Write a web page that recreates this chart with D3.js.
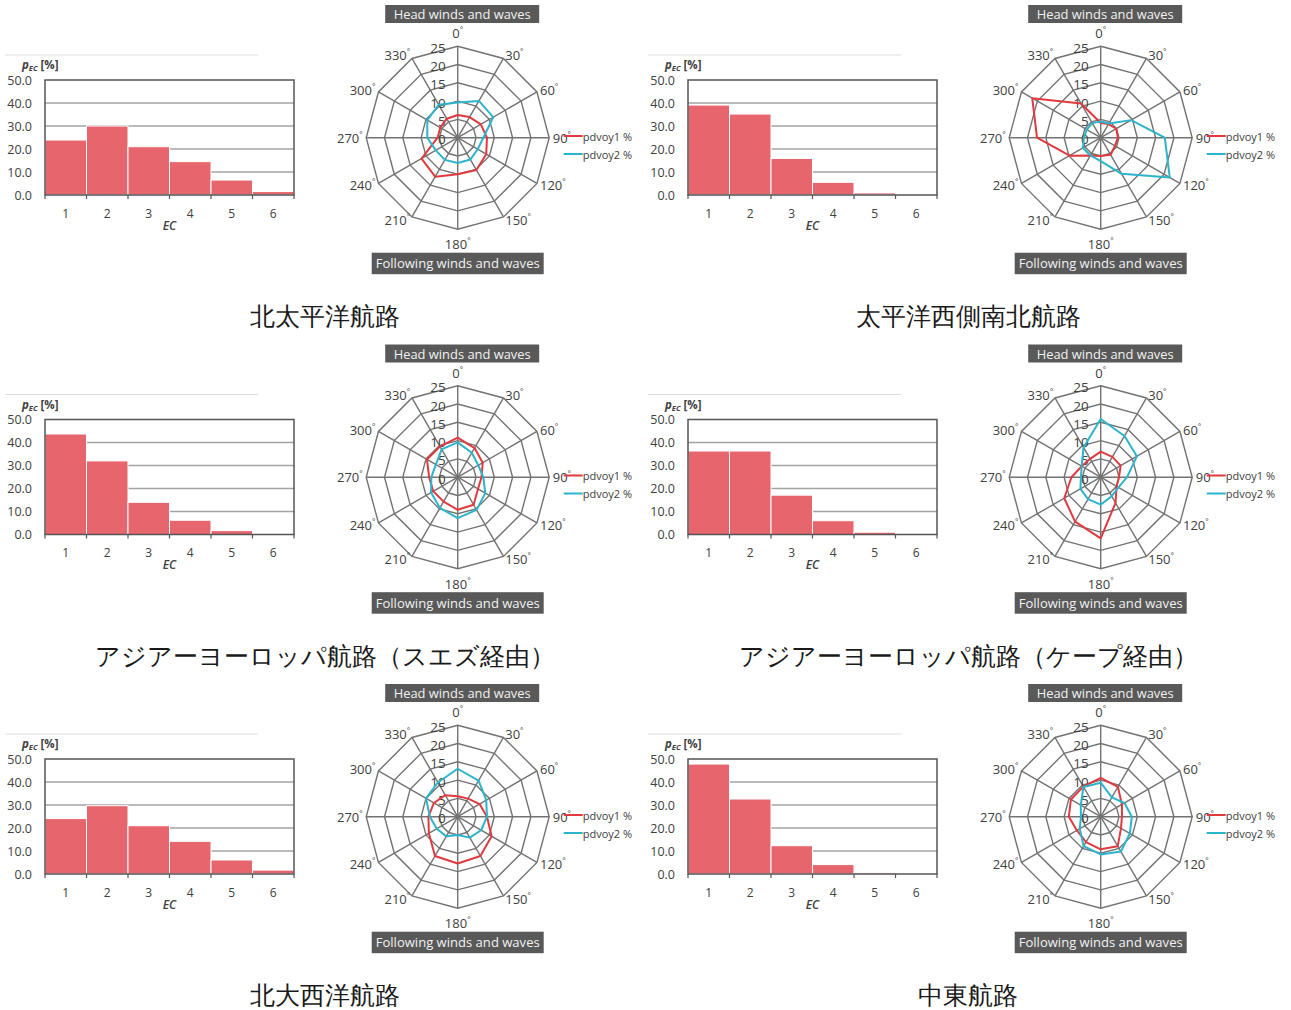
<!DOCTYPE html>
<html>
<head>
<meta charset="utf-8">
<script src="https://cdn.jsdelivr.net/npm/d3@7"></script>
<style>
  body { margin: 0; background: #fff; }
  svg text { font-family: "Open Sans", "Noto Sans", sans-serif; }
</style>
</head>
<body>
<div id="chart"></div>
<script>
// categories and tick labels
var ecLabels = [1, 2, 3, 4, 5, 6];
var yTicks = [0, 10, 20, 30, 40, 50];
var angleLabels = [0, 30, 60, 90, 120, 150, 180, 210, 240, 270, 300, 330];
var ringTicks = [0, 5, 10, 15, 20, 25];
var seriesNames = ["pdvoy1 %", "pdvoy2 %"];
var routeNames = ["北太平洋航路", "太平洋西側南北航路",
    "アジアーヨーロッパ航路（スエズ経由）", "アジアーヨーロッパ航路（ケープ経由）",
    "北大西洋航路", "中東航路"];

// p_EC [%] per route
var pecNPacific = [23.9, 30.0, 21.0, 14.5, 6.5, 1.5];
var pecWPacific = [39.1, 35.2, 15.9, 5.5, 0.9, 0.0];
var pecSuez = [43.7, 32.0, 14.0, 6.2, 1.7, 0.0];
var pecCape = [36.3, 36.3, 17.1, 6.0, 1.0, 0.0];
var pecNAtlantic = [24.1, 29.7, 21.0, 14.2, 6.1, 1.7];
var pecMidEast = [47.8, 32.6, 12.3, 4.1, 0.6, 0.0];

// pdvoy1 / pdvoy2 [%] per heading 0..330 deg
var voy1NPacific = [6.2, 6.5, 7.3, 8.0, 9.0, 10.2, 10.0, 12.3, 11.4, 5.5, 5.5, 6.0];
var voy2NPacific = [9.6, 11.6, 11.2, 7.0, 6.3, 6.9, 6.9, 7.0, 6.9, 8.3, 9.6, 10.4];
var voy1WPacific = [4.0, 4.3, 4.9, 4.7, 4.5, 5.4, 5.0, 5.6, 9.8, 17.4, 21.6, 10.8];
var voy2WPacific = [4.4, 4.5, 9.6, 17.5, 21.8, 11.4, 6.4, 5.6, 5.6, 4.6, 4.4, 4.6];
var voy1Suez = [10.8, 9.2, 7.9, 6.5, 6.4, 8.7, 8.9, 7.7, 7.7, 7.8, 9.7, 9.7];
var voy2Suez = [9.5, 7.7, 6.5, 7.0, 8.7, 10.3, 11.2, 9.7, 8.4, 7.2, 6.9, 8.8];
var voy1Cape = [7.0, 6.4, 6.3, 5.0, 5.0, 8.1, 16.7, 14.0, 11.5, 8.0, 6.0, 5.8];
var voy2Cape = [15.9, 13.0, 11.4, 7.2, 5.6, 6.0, 7.5, 6.9, 6.4, 5.4, 6.0, 9.4];
var voy1NAtlantic = [5.6, 5.7, 6.9, 8.0, 10.7, 12.4, 12.8, 12.4, 9.1, 8.0, 7.5, 6.8];
var voy2NAtlantic = [13.1, 11.4, 9.0, 8.0, 7.4, 6.6, 5.0, 6.2, 6.6, 7.6, 10.0, 10.8];
var voy1MidEast = [10.6, 9.4, 6.7, 5.8, 6.4, 9.3, 8.9, 8.0, 7.5, 8.7, 9.4, 9.5];
var voy2MidEast = [9.3, 6.1, 7.5, 8.5, 9.2, 11.0, 10.3, 9.3, 6.6, 5.4, 6.3, 9.4];

var routes = [
    { name: routeNames[0], pec: pecNPacific, voy: [voy1NPacific, voy2NPacific] },
    { name: routeNames[1], pec: pecWPacific, voy: [voy1WPacific, voy2WPacific] },
    { name: routeNames[2], pec: pecSuez, voy: [voy1Suez, voy2Suez] },
    { name: routeNames[3], pec: pecCape, voy: [voy1Cape, voy2Cape] },
    { name: routeNames[4], pec: pecNAtlantic, voy: [voy1NAtlantic, voy2NAtlantic] },
    { name: routeNames[5], pec: pecMidEast, voy: [voy1MidEast, voy2MidEast] }
];

var colX = [0, 643];
var rowY = [0, 339.5, 679];
var seriesColors = ["#e03a40", "#2bb4ca"];

var svg = d3.select("#chart").append("svg")
    .attr("width", 1291)
    .attr("height", 1010);

function rad(d) { return d * Math.PI / 180; }

function drawBars(g, pec) {
    var x = d3.scaleBand().domain(ecLabels).range([45, 294]);
    var y = d3.scaleLinear().domain([0, 50]).range([195, 80]);

    // thin rule above the chart
    g.append("line")
        .attr("x1", 5).attr("x2", 258).attr("y1", 55).attr("y2", 55)
        .attr("stroke", "#dedede").attr("stroke-width", 1.2);

    // gridlines
    g.selectAll(".grid")
        .data(yTicks.slice(1, -1))
        .enter().append("line")
        .attr("x1", 45).attr("x2", 294)
        .attr("y1", function(d) { return y(d); })
        .attr("y2", function(d) { return y(d); })
        .attr("stroke", "#a3a3a3").attr("stroke-width", 1.5);

    // bars
    g.selectAll(".bar")
        .data(pec)
        .enter().append("rect")
        .attr("x", function(d, i) { return x(ecLabels[i]); })
        .attr("y", function(d) { return y(d); })
        .attr("width", x.bandwidth())
        .attr("height", function(d) { return y(0) - y(d); })
        .attr("fill", "#e7666e")
        .attr("stroke", "#fff")
        .attr("stroke-width", 1);

    // plot frame
    g.append("rect")
        .attr("x", 45).attr("y", 80).attr("width", 249).attr("height", 115)
        .attr("fill", "none").attr("stroke", "#555").attr("stroke-width", 1.5);

    // small ticks at category boundaries
    g.selectAll(".btick")
        .data(d3.range(ecLabels.length + 1))
        .enter().append("line")
        .attr("x1", function(i) { return 45 + i * x.step(); })
        .attr("x2", function(i) { return 45 + i * x.step(); })
        .attr("y1", 195).attr("y2", 199)
        .attr("stroke", "#555").attr("stroke-width", 1.2);

    var yAxis = g.append("g")
        .attr("transform", "translate(45,0)")
        .call(d3.axisLeft(y).tickValues(yTicks).tickFormat(d3.format(".1f")).tickSize(0).tickPadding(13));
    yAxis.select(".domain").remove();
    yAxis.selectAll("text")
        .attr("font-family", "'Open Sans', sans-serif")
        .attr("font-size", 12.5)
        .attr("fill", "#404040");

    var xAxis = g.append("g")
        .attr("transform", "translate(0,195)")
        .call(d3.axisBottom(x).tickSize(0).tickPadding(14));
    xAxis.select(".domain").remove();
    xAxis.selectAll("text")
        .attr("font-family", "'Open Sans', sans-serif")
        .attr("font-size", 12)
        .attr("fill", "#404040");

    // axis titles
    g.append("text")
        .attr("x", 169.5).attr("y", 229.5)
        .attr("text-anchor", "middle")
        .attr("font-size", 12).attr("font-style", "italic").attr("font-weight", 600)
        .attr("fill", "#404040")
        .text("EC");

    var yt = g.append("text")
        .attr("x", 22).attr("y", 69)
        .attr("font-size", 11.5).attr("font-weight", 700)
        .attr("fill", "#404040");
    yt.append("tspan").attr("font-style", "italic").text("p");
    yt.append("tspan").attr("font-style", "italic").attr("font-size", 7.5).attr("dy", 2).text("EC");
    yt.append("tspan").attr("dy", -2).text(" [%]");
}

function drawRadar(g, voy) {
    var cx = 457.7, cy = 137.7;
    var r = d3.scaleLinear().domain([0, 25]).range([0, 91.5]);
    var rg = g.append("g").attr("transform", "translate(" + cx + "," + cy + ")");

    // header boxes
    rg.append("rect")
        .attr("x", -72.5).attr("y", -132.7).attr("width", 154).attr("height", 18)
        .attr("fill", "#595959");
    rg.append("text")
        .attr("x", 4.5).attr("y", -123.5)
        .attr("text-anchor", "middle").attr("dominant-baseline", "central")
        .attr("font-size", 13).attr("fill", "#f2f2f2")
        .attr("textLength", 137).attr("lengthAdjust", "spacingAndGlyphs")
        .text("Head winds and waves");
    rg.append("rect")
        .attr("x", -86).attr("y", 115).attr("width", 172).attr("height", 21.5)
        .attr("fill", "#595959");
    rg.append("text")
        .attr("x", 0).attr("y", 125.8)
        .attr("text-anchor", "middle").attr("dominant-baseline", "central")
        .attr("font-size", 13.5).attr("fill", "#f2f2f2")
        .attr("textLength", 164).attr("lengthAdjust", "spacingAndGlyphs")
        .text("Following winds and waves");

    // rings
    var ring = d3.lineRadial()
        .angle(function(d) { return rad(d); })
        .curve(d3.curveLinearClosed);
    rg.selectAll(".ring")
        .data(ringTicks.slice(1))
        .enter().append("path")
        .attr("d", function(v) { return ring.radius(r(v))(angleLabels); })
        .attr("fill", "none").attr("stroke", "#737373").attr("stroke-width", 1.4);

    // spokes
    rg.selectAll(".spoke")
        .data(angleLabels)
        .enter().append("line")
        .attr("x1", 0).attr("y1", 0)
        .attr("x2", function(d) { return r(25) * Math.sin(rad(d)); })
        .attr("y2", function(d) { return -r(25) * Math.cos(rad(d)); })
        .attr("stroke", "#737373").attr("stroke-width", 1.4);

    // radial value labels
    rg.selectAll(".rlab")
        .data(ringTicks)
        .enter().append("text")
        .attr("x", -12)
        .attr("y", function(v) { return -r(v) + 1.5; })
        .attr("text-anchor", "end").attr("dominant-baseline", "central")
        .attr("font-size", 13.5).attr("fill", "#404040")
        .text(function(v) { return v; });

    // angle labels: beside the vertex on the sides, above / below at top and bottom
    var al = rg.selectAll(".alab")
        .data(angleLabels)
        .enter().append("text")
        .attr("x", function(d) { return 95 * Math.sin(rad(d)); })
        .attr("y", function(d) {
            var s = Math.sin(rad(d)), c = Math.cos(rad(d));
            if (Math.abs(s) < 0.01) return c > 0 ? -104.5 : 106.5;
            return -95 * c;
        })
        .attr("text-anchor", function(d) {
            var s = Math.sin(rad(d));
            if (Math.abs(s) < 0.01) return "middle";
            return s > 0 ? "start" : "end";
        })
        .attr("dominant-baseline", "central")
        .attr("font-size", 13).attr("fill", "#404040");
    al.append("tspan").text(function(d) { return d; });
    al.append("tspan").attr("font-size", 8).attr("dy", -5).text("°");

    // series
    var line = d3.lineRadial()
        .angle(function(d, i) { return rad(angleLabels[i]); })
        .radius(function(d) { return r(d); })
        .curve(d3.curveLinearClosed);
    rg.selectAll(".series")
        .data(voy)
        .enter().append("path")
        .attr("d", function(d) { return line(d); })
        .attr("fill", "none")
        .attr("stroke", function(d, i) { return seriesColors[i]; })
        .attr("stroke-width", 2)
        .attr("stroke-linejoin", "round");

    // legend
    var lg = rg.selectAll(".leg")
        .data(seriesNames)
        .enter().append("g")
        .attr("transform", function(d, i) { return "translate(106," + (-1.7 + i * 18) + ")"; });
    lg.append("line")
        .attr("x1", 0).attr("x2", 19).attr("y1", 0).attr("y2", 0)
        .attr("stroke", function(d, i) { return seriesColors[i]; })
        .attr("stroke-width", 2);
    lg.append("text")
        .attr("x", 19).attr("y", 0)
        .attr("dominant-baseline", "central")
        .attr("font-size", 11).attr("fill", "#404040")
        .text(function(d) { return d; });
}

routes.forEach(function(rt, i) {
    var g = svg.append("g")
        .attr("transform", "translate(" + colX[i % 2] + "," + rowY[Math.floor(i / 2)] + ")");
    drawBars(g, rt.pec);
    drawRadar(g, rt.voy);
    g.append("text")
        .attr("x", 325).attr("y", 315)
        .attr("text-anchor", "middle").attr("dominant-baseline", "central")
        .attr("font-family", "'Noto Sans CJK JP', sans-serif")
        .attr("font-size", 25).attr("fill", "#1a1a1a")
        .text(rt.name);
});
</script>
</body>
</html>
